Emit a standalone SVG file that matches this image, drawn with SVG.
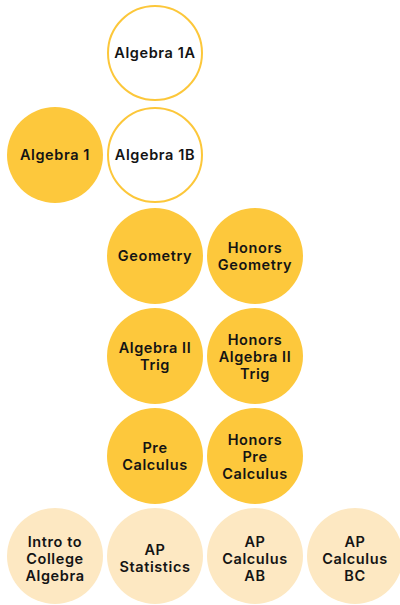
<svg xmlns="http://www.w3.org/2000/svg" width="400" height="605" viewBox="0 0 400 605">
<style>
.o{fill:#fff;stroke:#fcc73a;stroke-width:2}
.f{fill:#fdc83c}
.l{fill:#fde8c2}
text{font-family:Inter,"Liberation Sans",sans-serif;font-weight:600;font-size:14.5px;letter-spacing:0.6px;fill:#141414;text-anchor:middle}
</style>
<rect width="400" height="605" fill="#fff"/>
<g id="algebra-1a"><circle class="o" cx="155" cy="53" r="47"/><text x="155" y="58">Algebra 1A</text></g>
<g id="algebra-1"><circle class="f" cx="55" cy="155" r="48"/><text x="55" y="160">Algebra 1</text></g>
<g id="algebra-1b"><circle class="o" cx="155" cy="155" r="47"/><text x="155" y="160">Algebra 1B</text></g>
<g id="geometry"><circle class="f" cx="155" cy="256" r="48"/><text x="155" y="261">Geometry</text></g>
<g id="honors-geometry"><circle class="f" cx="255" cy="256" r="48"/><text x="255" y="253">Honors</text><text x="255" y="270">Geometry</text></g>
<g id="algebra-ii-trig"><circle class="f" cx="155" cy="356" r="48"/><text x="155" y="353">Algebra II</text><text x="155" y="370">Trig</text></g>
<g id="honors-algebra-ii-trig"><circle class="f" cx="255" cy="356" r="48"/><text x="255" y="345">Honors</text><text x="255" y="362">Algebra II</text><text x="255" y="379">Trig</text></g>
<g id="pre-calculus"><circle class="f" cx="155" cy="456" r="48"/><text x="155" y="453">Pre</text><text x="155" y="470">Calculus</text></g>
<g id="honors-pre-calculus"><circle class="f" cx="255" cy="456" r="48"/><text x="255" y="445">Honors</text><text x="255" y="462">Pre</text><text x="255" y="479">Calculus</text></g>
<g id="intro-college-algebra"><circle class="l" cx="55" cy="556" r="48"/><text x="55" y="547">Intro to</text><text x="55" y="564">College</text><text x="55" y="581">Algebra</text></g>
<g id="ap-statistics"><circle class="l" cx="155" cy="556" r="48"/><text x="155" y="555">AP</text><text x="155" y="572">Statistics</text></g>
<g id="ap-calculus-ab"><circle class="l" cx="255" cy="556" r="48"/><text x="255" y="547">AP</text><text x="255" y="564">Calculus</text><text x="255" y="581">AB</text></g>
<g id="ap-calculus-bc"><circle class="l" cx="355" cy="556" r="48"/><text x="355" y="547">AP</text><text x="355" y="564">Calculus</text><text x="355" y="581">BC</text></g>
<g id="connectors"></g>
</svg>
